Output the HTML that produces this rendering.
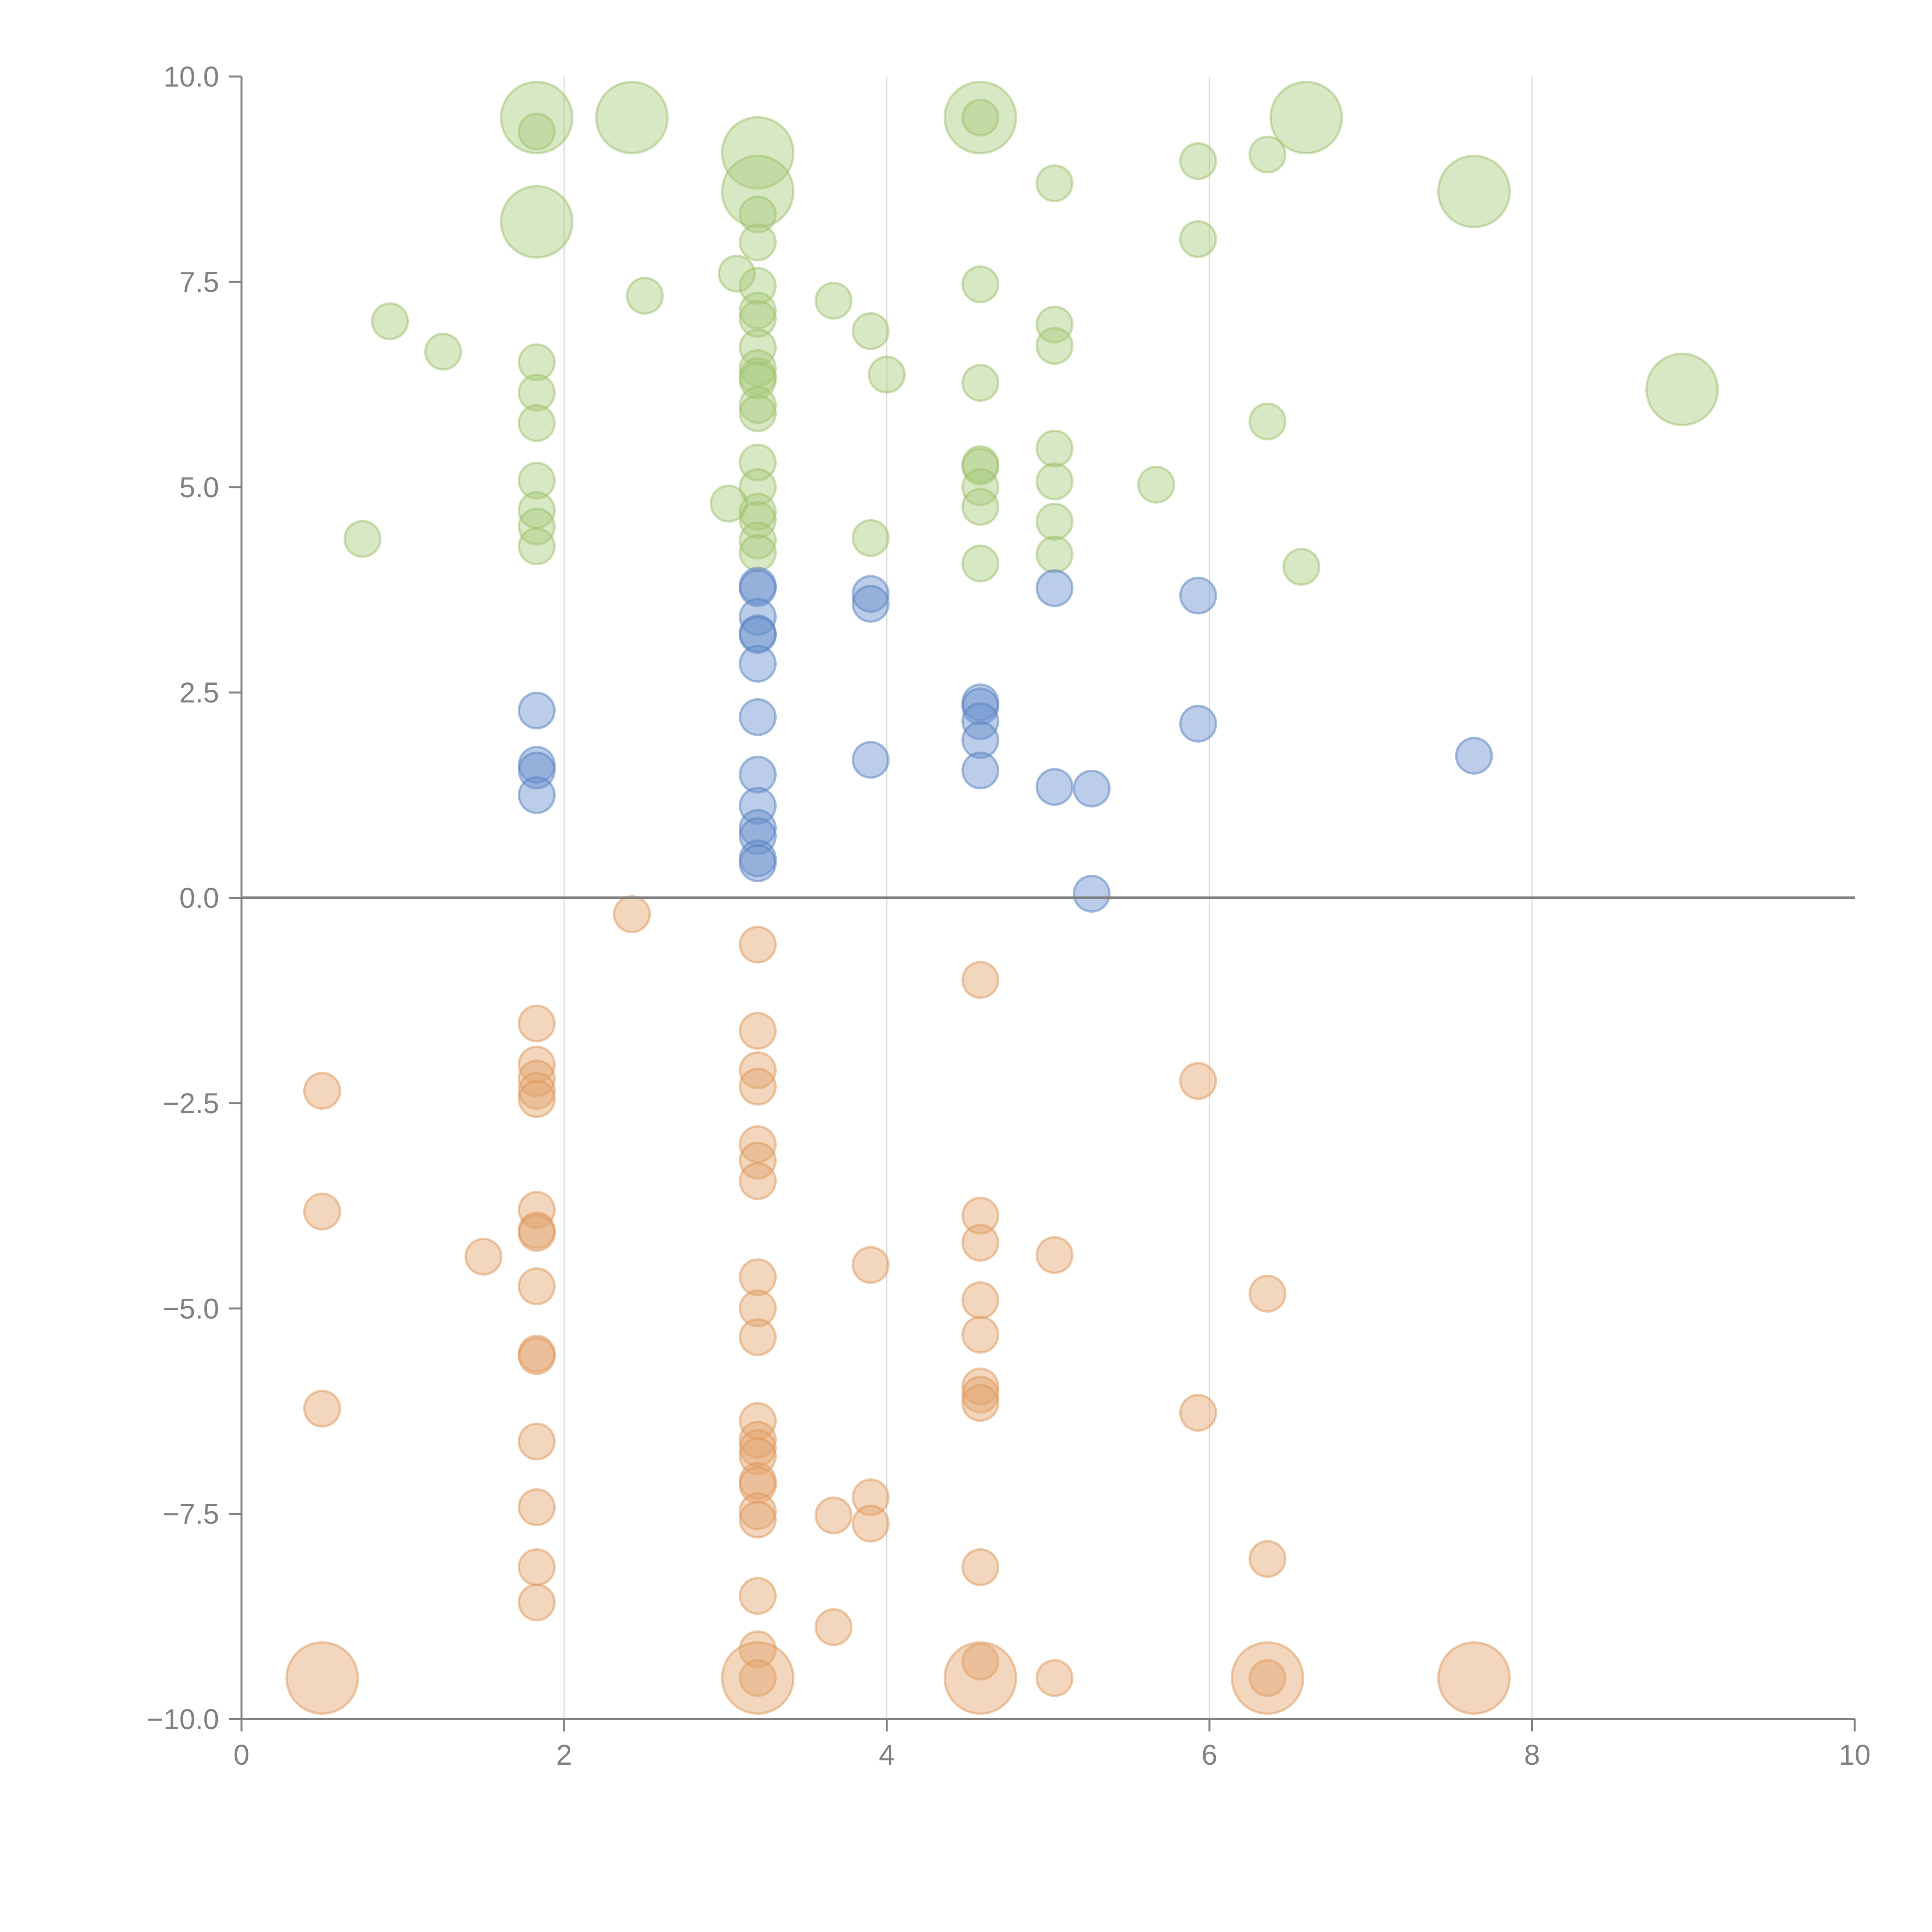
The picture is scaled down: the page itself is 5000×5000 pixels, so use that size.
<!DOCTYPE html>
<html><head><meta charset="utf-8"><style>
html,body{margin:0;padding:0;background:#fff;}
svg{display:block;font-family:"Liberation Sans",sans-serif;}
</style></head><body>
<svg id="chart" width="5000" height="5000" viewBox="0 0 5000 5000" xmlns="http://www.w3.org/2000/svg">
<rect width="5000" height="5000" fill="#fff"/>
<g id="grid"></g>
<g id="points"></g>
<g id="axes"></g>
</svg>
<script>
const xTicks = [0, 2, 4, 6, 8, 10];
const yTicks = [10, 7.5, 5, 2.5, 0, -2.5, -5, -7.5, -10];
const yTickLabels = ["10.0", "7.5", "5.0", "2.5", "0.0", "\u22122.5", "\u22125.0", "\u22127.5", "\u221210.0"];

const greenX = [1.83,1.83,2.42,4.58,4.58,6.6,3.2,3.2,7.64,1.83,8.93,
 3.2,3.2,3.07,3.2,3.2,3.2,3.2,3.2,3.2,3.2,3.2,3.2,3.2,3.2,3.2,3.2,3.2,3.2,3.02,
 5.04,5.93,6.36,5.93,4.58,2.5,3.67,3.9,4.0,0.92,1.25,1.83,1.83,1.83,1.83,1.83,1.83,1.83,0.75,
 5.04,5.04,4.58,6.36,5.04,4.58,4.58,4.58,4.58,4.58,5.04,5.04,5.04,5.67,6.57,3.9];
const greenY = [9.5,9.33,9.5,9.5,9.5,9.5,9.07,8.6,8.6,8.23,6.19,
 8.32,7.98,7.6,7.45,7.15,7.05,6.7,6.45,6.35,6.3,6.0,5.9,5.3,5.0,4.7,4.6,4.35,4.2,4.8,
 8.7,8.97,9.05,8.02,7.47,7.33,7.27,6.9,6.37,7.02,6.65,6.52,6.15,5.78,5.08,4.72,4.52,4.28,4.37,
 6.98,6.72,6.27,5.8,5.47,5.28,5.25,5.0,4.76,4.07,5.07,4.58,4.18,5.03,4.03,4.38];
const greenSize = [4,1,4,4,1,4,4,4,4,4,4,
 1,1,1,1,1,1,1,1,1,1,1,1,1,1,1,1,1,1,1,
 1,1,1,1,1,1,1,1,1,1,1,1,1,1,1,1,1,1,1,
 1,1,1,1,1,1,1,1,1,1,1,1,1,1,1,1];

const blueX = [3.2,3.2,3.2,3.2,3.2,3.2,3.2,3.2,3.2,3.2,3.2,3.2,3.2,3.9,3.9,5.04,5.93,1.83,1.83,1.83,1.83,4.58,4.58,4.58,4.58,4.58,5.93,7.64,3.9,5.04,5.27,5.27];
const blueY = [3.8,3.77,3.42,3.22,3.2,2.85,2.2,1.5,1.12,0.85,0.75,0.48,0.42,3.7,3.58,3.77,3.68,2.28,1.62,1.55,1.25,2.38,2.33,2.15,1.92,1.55,2.12,1.73,1.68,1.35,1.33,0.05];
const blueSize = [1,1,1,1,1,1,1,1,1,1,1,1,1,1,1,1,1,1,1,1,1,1,1,1,1,1,1,1,1,1,1,1];

const orangeX = [2.42,3.2,4.58,1.83,3.2,1.83,1.83,1.83,1.83,3.2,3.2,0.5,5.93,3.2,3.2,3.2,0.5,1.83,1.83,1.83,1.5,4.58,4.58,5.04,3.9,3.2,1.83,3.2,4.58,6.36,3.2,4.58,1.83,1.83,4.58,4.58,4.58,0.5,5.93,3.2,3.2,3.2,3.2,1.83,3.2,3.2,3.9,1.83,3.2,3.2,3.67,3.9,6.36,4.58,1.83,1.83,3.2,3.67,3.2,4.58,5.04,6.36,3.2,
 0.5,3.2,4.58,6.36,7.64];
const orangeY = [-0.2,-0.57,-1.0,-1.53,-1.62,-2.03,-2.2,-2.35,-2.45,-2.1,-2.3,-2.35,-2.23,-3.0,-3.2,-3.45,-3.82,-3.8,-4.05,-4.08,-4.37,-3.87,-4.2,-4.35,-4.47,-4.62,-4.73,-5.0,-4.9,-4.82,-5.35,-5.32,-5.55,-5.58,-5.95,-6.05,-6.15,-6.22,-6.27,-6.37,-6.6,-6.7,-6.8,-6.62,-7.1,-7.15,-7.3,-7.42,-7.47,-7.57,-7.52,-7.62,-8.05,-8.15,-8.15,-8.58,-8.5,-8.88,-9.15,-9.3,-9.5,-9.5,-9.5,
 -9.5,-9.5,-9.5,-9.5,-9.5];
const orangeSize = [1,1,1,1,1,1,1,1,1,1,1,1,1,1,1,1,1,1,1,1,1,1,1,1,1,1,1,1,1,1,1,1,1,1,1,1,1,1,1,1,1,1,1,1,1,1,1,1,1,1,1,1,1,1,1,1,1,1,1,1,1,1,1,
 4,4,4,4,4];

const X0 = 625, X1 = 4800, Y0 = 4449, Y1 = 198;
const xS = v => X0 + (v - 0) / 10 * (X1 - X0);
const yS = v => Y0 - (v + 10) / 20 * (Y0 - Y1);
const rS = s => 48 * Math.sqrt(s) * 0.96;
const NS = "http://www.w3.org/2000/svg";
function mk(tag, attrs, parent) {
  const e = document.createElementNS(NS, tag);
  for (const k in attrs) e.setAttribute(k, attrs[k]);
  parent.appendChild(e);
  return e;
}
const grid = document.getElementById('grid');
const pts = document.getElementById('points');
const axes = document.getElementById('axes');

[2,4,6,8].forEach(v => {
  const l = mk('line', {x1: xS(v), x2: xS(v), y1: Y1, y2: Y0, stroke: '#d9d9d9', 'stroke-width': 3}, grid);
  
  
});

function series(xs, ys, ss, fill, stroke, name) {
  for (let i = 0; i < xs.length; i++) {
    const c = mk('circle', {cx: xS(xs[i]), cy: yS(ys[i]), r: rS(ss[i]), fill: fill, 'fill-opacity': 0.45, stroke: stroke, 'stroke-opacity': 0.5, 'stroke-width': 6}, pts);
    
    
  }
}
series(greenX, greenY, greenSize, '#a9c97c', '#9dc06a', 'green-bubble');
series(blueX, blueY, blueSize, '#6990cb', '#5580c0', 'blue-bubble');
series(orangeX, orangeY, orangeSize, '#e3a46c', '#e09558', 'orange-bubble');

const zl = mk('line', {x1: X0, x2: X1, y1: yS(0), y2: yS(0), stroke: '#808080', 'stroke-width': 7}, axes);


const ya = mk('line', {x1: X0, x2: X0, y1: Y1, y2: Y0 + 2, stroke: '#808080', 'stroke-width': 5}, axes);


const xa = mk('line', {x1: X0 - 2, x2: X1, y1: Y0, y2: Y0, stroke: '#808080', 'stroke-width': 5}, axes);



xTicks.forEach(v => {
  const t = mk('line', {x1: xS(v), x2: xS(v), y1: Y0, y2: Y0 + 32, stroke: '#808080', 'stroke-width': 5}, axes);
  
  
  const tx = mk('text', {x: xS(v), y: Y0 + 118, 'text-anchor': 'middle', 'font-size': 74, fill: '#808080'}, axes);
  tx.textContent = String(v);
  
  
});
yTicks.forEach((v, i) => {
  const t = mk('line', {x1: X0 - 32, x2: X0, y1: yS(v), y2: yS(v), stroke: '#808080', 'stroke-width': 5}, axes);
  
  
  const tx = mk('text', {x: X0 - 58, y: yS(v) + 26, 'text-anchor': 'end', 'font-size': 74, fill: '#808080'}, axes);
  tx.textContent = yTickLabels[i];
  
  
});
</script>
</body></html>
